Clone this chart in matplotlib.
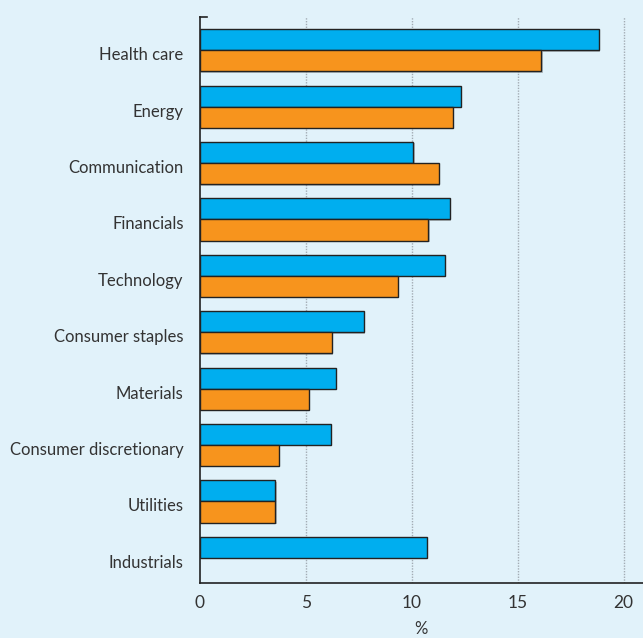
import matplotlib.pyplot as plt
import matplotlib.patheffects as pe

# sectors, top to bottom
sectors = ["Health care", "Energy", "Communication", "Financials", "Technology",
           "Consumer staples", "Materials", "Consumer discretionary", "Utilities",
           "Industrials"]
blue_vals = [18.83, 12.33, 10.08, 11.79, 11.57, 7.74, 6.42, 6.18, 3.57, 10.71]
orange_vals = [16.11, 11.95, 11.27, 10.79, 9.34, 6.23, 5.15, 3.73, 3.57, None]
xticks = [0, 5, 10, 15, 20]

bg = "#e1f2fa"
blue = "#00aeef"
orange = "#f7941d"
txt = "#333333"

plt.rcParams['font.family'] = ['Lato', 'DejaVu Sans']

fig = plt.figure(figsize=(6.43, 6.38), dpi=100, facecolor=bg)
ax = fig.add_axes([0.3106, 0.0867, 0.6894, 0.8862], facecolor=bg)

h = 0.373
shadow = [pe.SimplePatchShadow(offset=(1, -1), shadow_rgbFace="#555555", alpha=0.35), pe.Normal()]
for i, (b, o) in enumerate(zip(blue_vals, orange_vals)):
    ax.barh(i - h / 2, b, height=h, color=blue, edgecolor="#222222", linewidth=1,
            path_effects=shadow, zorder=3)
    if o is not None:
        ax.barh(i + h / 2, o, height=h, color=orange, edgecolor="#222222", linewidth=1,
                path_effects=shadow, zorder=3)

ax.set_xlim(0, 20.91)
ax.set_ylim(9.44, -0.585)

ax.set_yticks([i + 0.06 for i in range(len(sectors))])
ax.set_yticklabels(sectors, fontsize=12, color=txt)
ax.set_xticks(xticks)
ax.set_xticklabels([str(x) for x in xticks], fontsize=12.5, color=txt)
ax.tick_params(axis="y", length=0, pad=11.5)
ax.tick_params(axis="x", length=0, pad=9)

for x in xticks[1:]:
    ax.axvline(x, color="#a3acb4", linestyle=(0, (1, 1)), linewidth=1, zorder=1)

for s in ["top", "right"]:
    ax.spines[s].set_visible(False)
ax.spines["left"].set_color("#222222")
ax.spines["bottom"].set_color("#222222")
ax.spines["left"].set_linewidth(1.2)
ax.spines["bottom"].set_linewidth(1.2)

# little tick at the top of the y axis
ax.plot([0, 0.35], [-0.585, -0.585], color="#222222", linewidth=1.2, clip_on=False, zorder=4)

ax.set_xlabel("%", fontsize=12, color=txt, labelpad=7)

fig.savefig("out.png", dpi=100, facecolor=bg)
